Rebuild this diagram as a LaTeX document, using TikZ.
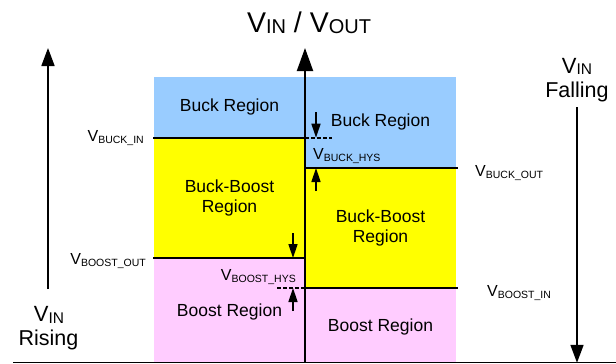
\documentclass[tikz,border=0pt]{standalone}
\usepackage{fontspec}
\setmainfont{Liberation Sans}
\usetikzlibrary{arrows.meta}
\definecolor{buckblue}{HTML}{99CCFF}
\definecolor{bbyellow}{HTML}{FFFF00}
\definecolor{boostpink}{HTML}{FFCCFF}
\newcommand{\Vlab}[4]{{\fontsize{#1}{#1}\selectfont V\raisebox{#3}{\fontsize{#2}{#2}\selectfont #4}}}
\begin{document}
\begin{tikzpicture}[x=1pt,y=-1pt,
  region/.style={inner sep=0pt,align=center,font=\fontsize{17.5}{20.5}\selectfont},
  lvl/.style={inner sep=0pt},
  boundary/.style={line width=1.8pt},
  bigarrow/.style={line width=1.7pt,-{Triangle[length=18pt,width=13pt]}},
  axisarrow/.style={line width=2pt,-{Triangle[length=23pt,width=16pt]}},
  hysarrow/.style={line width=1.5pt,-{Triangle[length=14pt,width=9pt]}},
  hysdash/.style={line width=1.6pt,dash pattern=on 3.5pt off 2.5pt}]
\useasboundingbox (0,0) rectangle (616,364);
% fills
\fill[buckblue] (154,77) rectangle (305,137.7);
\fill[bbyellow] (154,137.7) rectangle (305,258);
\fill[boostpink] (154,258) rectangle (305,362.5);
\fill[buckblue] (305,77) rectangle (456,168);
\fill[bbyellow] (305,168) rectangle (456,288);
\fill[boostpink] (305,288) rectangle (456,362.5);
% coordinates
\coordinate (bl) at (13,362.8);
\coordinate (br) at (616,362.8);
\coordinate (ax0) at (305,362.8);
\coordinate (ax1) at (305,48);
\coordinate (bi0) at (153,137.7);
\coordinate (bi1) at (305,137.7);
\coordinate (bo0) at (305,168);
\coordinate (bo1) at (458,168);
\coordinate (so0) at (153,258);
\coordinate (so1) at (305,258);
\coordinate (si0) at (305,288);
\coordinate (si1) at (458,288);
\coordinate (r0) at (48,289);
\coordinate (r1) at (48,48);
\coordinate (f0) at (577,107);
\coordinate (f1) at (577,362.8);
\coordinate (h1a) at (316,112);
\coordinate (h1b) at (316,137.7);
\coordinate (h2a) at (316,191);
\coordinate (h2b) at (316,168);
\coordinate (h3a) at (293,233);
\coordinate (h3b) at (293,258);
\coordinate (h4a) at (293,311);
\coordinate (h4b) at (293,288);
\coordinate (d1a) at (305,137.7);
\coordinate (d1b) at (332,137.7);
\coordinate (d2a) at (277,288);
\coordinate (d2b) at (305,288);
% lines
\draw[line width=1pt] (bl) -- (br);
\draw[boundary] (bi0) -- (bi1);
\draw[boundary] (bo0) -- (bo1);
\draw[boundary] (so0) -- (so1);
\draw[boundary] (si0) -- (si1);
\draw[axisarrow] (ax0) -- (ax1);
\draw[bigarrow] (r0) -- (r1);
\draw[bigarrow] (f0) -- (f1);
\draw[hysarrow] (h1a) -- (h1b);
\draw[hysarrow] (h2a) -- (h2b);
\draw[hysarrow] (h3a) -- (h3b);
\draw[hysarrow] (h4a) -- (h4b);
\draw[hysdash] (d1a) -- (d1b);
\draw[hysdash] (d2a) -- (d2b);
% region labels
\node[region] (buckL) at (229.5,106.5) {Buck Region};
\node[region] (buckR) at (380.5,121.5) {Buck Region};
\node[region] (bbL) at (229.5,198) {Buck-Boost\\Region};
\node[region] (bbR) at (380.5,228) {Buck-Boost\\Region};
\node[region] (boostL) at (229.5,311.5) {Boost Region};
\node[region] (boostR) at (380.5,326.5) {Boost Region};
% level labels
\node[lvl,anchor=base east] (lbuckin) at (144,141) {\Vlab{16}{10.5}{-2pt}{BUCK\_IN}};
\node[lvl,anchor=base east] (lboostout) at (146,264) {\Vlab{16}{10.5}{-2pt}{BOOST\_OUT}};
\node[lvl,anchor=base west] (lbuckhys) at (313,159.3) {\Vlab{16}{10.5}{-2pt}{BUCK\_HYS}};
\node[lvl,anchor=base east] (lboosthys) at (296,280) {\Vlab{16}{10.5}{-2pt}{BOOST\_HYS}};
\node[lvl,anchor=base west] (lbuckout) at (475,176) {\Vlab{16}{10.5}{-2pt}{BUCK\_OUT}};
\node[lvl,anchor=base west] (lboostin) at (487,296.5) {\Vlab{16}{10.5}{-2pt}{BOOST\_IN}};
% title and side labels
\node[lvl,anchor=base] (title) at (309,32.5) {{\fontsize{28.5}{28.5}\selectfont V\raisebox{-1pt}{\fontsize{20}{20}\selectfont IN} / V\raisebox{-1pt}{\fontsize{20}{20}\selectfont OUT}}};
\node[lvl,anchor=base] (vinr) at (49,321.7) {\Vlab{22}{15.5}{-1.5pt}{IN}};
\node[lvl,anchor=base] (rising) at (48.5,345) {\fontsize{21.5}{21.5}\selectfont Rising};
\node[lvl,anchor=base] (vinf) at (577,73) {\Vlab{22}{15.5}{-1.5pt}{IN}};
\node[lvl,anchor=base] (falling) at (577,97) {\fontsize{21.5}{21.5}\selectfont Falling};
\end{tikzpicture}
\end{document}
